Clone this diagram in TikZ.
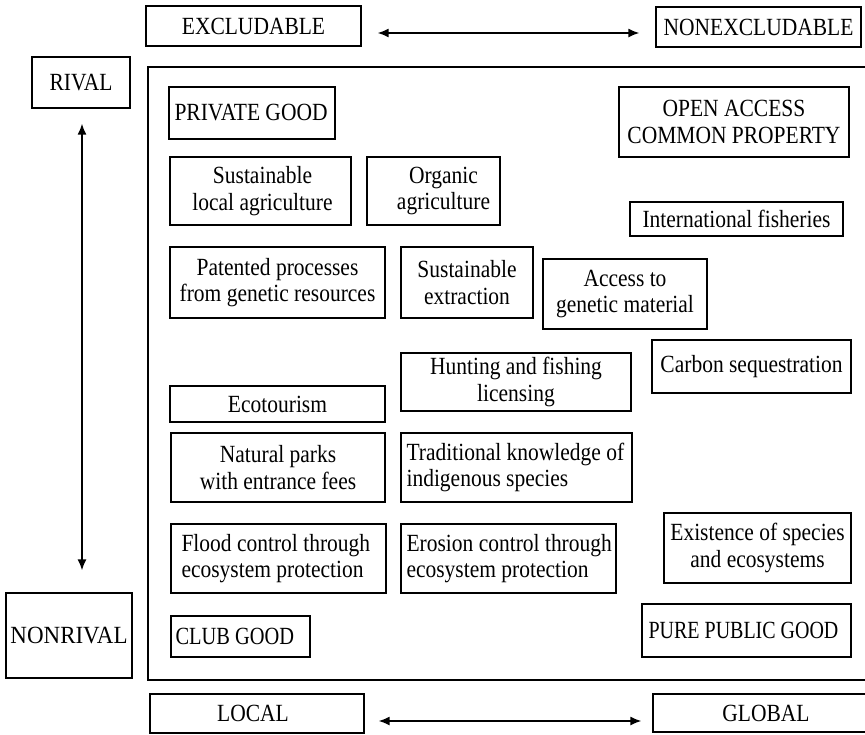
\documentclass[tikz,border=0pt]{standalone}
\usepackage{graphicx}
\usepackage{fontspec}
\setmainfont{Liberation Serif}[FakeStretch=0.87]
\usetikzlibrary{arrows.meta}
\tikzset{
  gbox/.style={draw=black, line width=1.3pt, inner sep=0pt, fill=none},
  gtxt/.style={inner sep=0pt, align=center, font=\fontsize{24.7}{26.5}\selectfont},
  dbl/.style={line width=1.5pt, {Latex[length=11pt,width=9pt]}-{Latex[length=11pt,width=9pt]}},
}
% #1 name, #2 x1, #3 y1, #4 x2, #5 y2, #6 text position, #7 text options, #8 text
\newcommand\gbx[8]{%
  \node[gbox, minimum width={(#4-#2)*1pt}, minimum height={(#5-#3)*1pt}] (#1) at ({(#2+#4)/2},{(#3+#5)/2}) {};
  \node[gtxt, #7] (#1-t) at (#6) {#8};}
\begin{document}
\begin{tikzpicture}[x=1pt,y=-1pt]
\useasboundingbox[fill=white] (0,0) rectangle (865,734);
% outer frame (open on the right, cut by the picture edge)
\draw[line width=1.3pt] (885,67) -- (148,67) -- (148,680) -- (885,680);

\gbx{excl}{146}{6}{361}{46}{excl.center}{}{EXCLUDABLE}
\gbx{nonexcl}{656}{7}{861}{47}{nonexcl.center}{}{NONEXCLUDABLE}
\gbx{rival}{32}{57}{130}{108}{rival.center}{}{RIVAL}
\gbx{nonrival}{6}{593}{132}{678}{nonrival.center}{}{\scalebox{1.07}[1]{NONRIVAL}}
\gbx{local}{150}{694}{364}{733}{[xshift=-4pt]local.center}{}{LOCAL}
\gbx{global}{653}{694}{879}{732}{global.center}{}{GLOBAL}

\gbx{priv}{169}{87}{335}{139}{[xshift=6pt]priv.west}{anchor=west, align=left}{PRIVATE GOOD}
\gbx{open}{619}{87}{849}{157}{open.center}{}{OPEN ACCESS\\COMMON PROPERTY}
\gbx{sla}{170}{157}{351}{225}{[xshift=2pt]sla.center}{}{Sustainable\\local agriculture}
\gbx{org}{367}{157}{500}{225}{[xshift=10pt]org.center}{}{Organic\\agriculture}
\gbx{intl}{630}{202}{843}{236}{intl.center}{}{International fisheries}
\gbx{pat}{170}{247}{385}{318}{pat.center}{}{Patented processes\\from genetic resources}
\gbx{sext}{401}{247}{533}{318}{sext.center}{}{Sustainable\\extraction}
\gbx{acc}{543}{259}{707}{329}{acc.center}{}{Access to\\genetic material}
\gbx{hunt}{401}{353}{631}{411}{hunt.center}{}{Hunting and fishing\\licensing}
\gbx{carb}{652}{340}{851}{393}{carb.center}{}{Carbon sequestration}
\gbx{eco}{170}{386}{385}{422}{eco.center}{}{Ecotourism}
\gbx{nat}{171}{433}{385}{502}{nat.center}{}{Natural parks\\with entrance fees}
\gbx{trad}{401}{433}{632}{502}{[xshift=6pt]trad.west}{anchor=west, align=left}{Traditional knowledge of\\indigenous species}
\gbx{flood}{171}{524}{386}{593}{[xshift=11pt]flood.west}{anchor=west, align=left}{Flood control through\\ecosystem protection}
\gbx{eros}{401}{524}{616}{593}{[xshift=6pt]eros.west}{anchor=west, align=left}{Erosion control through\\ecosystem protection}
\gbx{exist}{664}{513}{851}{583}{exist.center}{}{Existence of species\\and ecosystems}
\gbx{club}{171}{616}{310}{657}{[xshift=5pt]club.west}{anchor=west, align=left}{\scalebox{0.95}[1]{CLUB GOOD}}
\gbx{pure}{642}{604}{851}{657}{[xshift=-3pt]pure.center}{}{\scalebox{0.93}[1]{PURE PUBLIC GOOD}}

% double-headed arrows
\draw[dbl] ([shift={(16,7)}]excl.east) -- ([shift={(-16,6)}]nonexcl.west);
\draw[dbl] ([shift={(1,15)}]rival.south) -- ([shift={(13,-22)}]nonrival.north);
\draw[dbl] ([shift={(14,7.5)}]local.east) -- ([shift={(-11,8)}]global.west);
\end{tikzpicture}
\end{document}
